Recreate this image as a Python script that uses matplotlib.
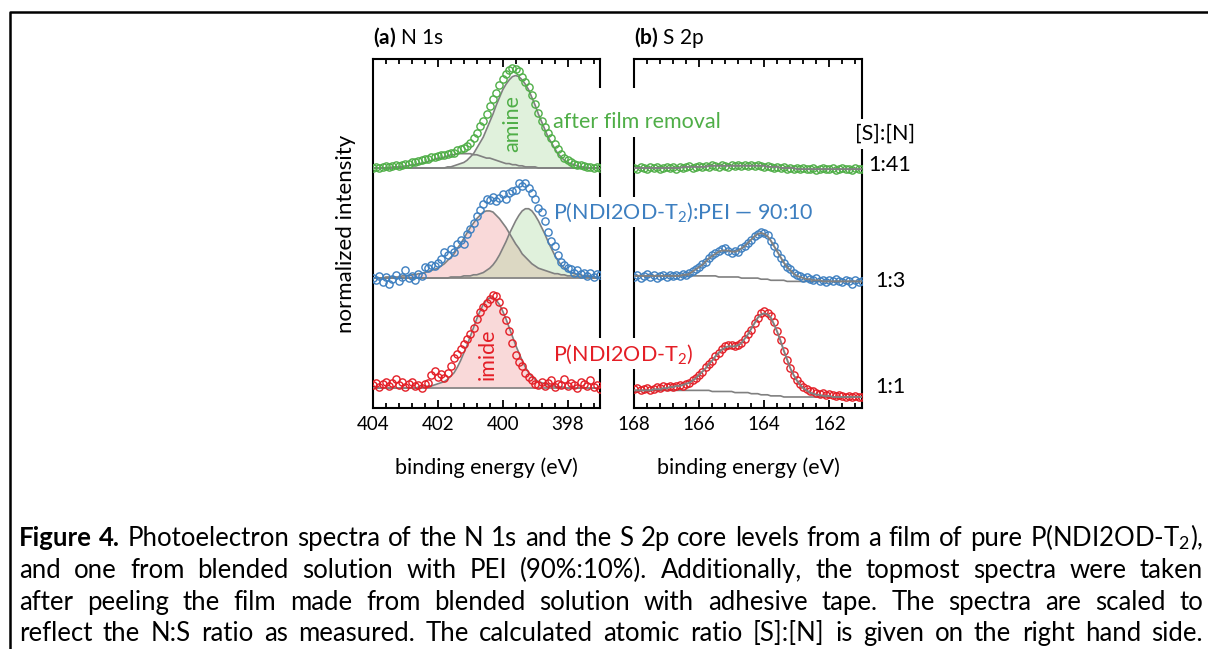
import numpy as np
import matplotlib
matplotlib.use("Agg")
from matplotlib import pyplot as plt
from matplotlib.ticker import MultipleLocator
from matplotlib.patches import Rectangle
from matplotlib.lines import Line2D

plt.rcParams["font.family"] = ["Lato", "DejaVu Sans"]
plt.rcParams["mathtext.fontset"] = "custom"
plt.rcParams["mathtext.rm"] = "Lato"
plt.rcParams["mathtext.it"] = "Lato:italic"
plt.rcParams["mathtext.bf"] = "Lato:bold"

# binding energy grids, 0.1 eV steps
n1s_energy = np.round(np.linspace(404.0, 397.0, 71), 1)
s2p_energy = np.round(np.linspace(168.0, 161.0, 71), 1)

# ---- N 1s ----
# pure P(NDI2OD-T2)
n1s_pure = [0.03, 0.05, 0.01, 0.04, 0.06, 0.02, 0.05, 0.08, 0.03, 0.06,
            0.01, 0.04, 0.06, 0.02, 0.03, 0.00, 0.04, 0.05, 0.12, 0.16,
            0.10, 0.13, 0.09, 0.14, 0.20, 0.27, 0.31, 0.36, 0.40, 0.45,
            0.49, 0.55, 0.63, 0.69, 0.74, 0.77, 0.81, 0.85, 0.84, 0.78,
            0.70, 0.62, 0.52, 0.41, 0.30, 0.24, 0.20, 0.14, 0.10, 0.07,
            0.04, 0.03, 0.06, 0.02, 0.05, 0.07, 0.01, 0.04, 0.03, 0.08,
            0.02, 0.05, 0.03, 0.00, 0.06, 0.04, 0.02, 0.07, 0.01, 0.03, -0.01]
n1s_pure_imide = [0, 0, 0, 0, 0, 0, 0, 0, 0, 0,
                  0, 0, 0, 0.00, 0.01, 0.01, 0.01, 0.02, 0.02, 0.03,
                  0.04, 0.05, 0.06, 0.08, 0.11, 0.14, 0.19, 0.25, 0.32, 0.39,
                  0.47, 0.55, 0.63, 0.70, 0.76, 0.80, 0.82, 0.82, 0.80, 0.76,
                  0.70, 0.63, 0.55, 0.47, 0.39, 0.32, 0.25, 0.19, 0.14, 0.11,
                  0.08, 0.06, 0.05, 0.04, 0.03, 0.02, 0.02, 0.01, 0.01, 0.01,
                  0, 0, 0, 0, 0, 0, 0, 0, 0, 0, 0]

# blend P(NDI2OD-T2):PEI 90:10
n1s_blend = [0.00, -0.02, 0.02, -0.04, 0.01, -0.05, -0.01, 0.03, -0.03, 0.01,
             0.07, 0.00, 0.02, -0.02, 0.04, 0.02, 0.10, 0.09, 0.12, 0.11,
             0.14, 0.17, 0.24, 0.21, 0.26, 0.24, 0.31, 0.35, 0.31, 0.40,
             0.45, 0.50, 0.56, 0.62, 0.67, 0.72, 0.71, 0.74, 0.70, 0.73,
             0.76, 0.72, 0.77, 0.79, 0.80, 0.86, 0.84, 0.86, 0.82, 0.77,
             0.72, 0.64, 0.60, 0.52, 0.42, 0.34, 0.29, 0.21, 0.15, 0.12,
             0.09, 0.08, 0.05, 0.07, 0.04, 0.05, 0.02, 0.05, 0.01, 0.04, 0.03]
n1s_blend_imide = [0.00, 0.00, 0.00, 0.00, 0.01, 0.01, 0.01, 0.01, 0.01, 0.02,
                   0.02, 0.02, 0.03, 0.03, 0.04, 0.04, 0.05, 0.06, 0.07, 0.08,
                   0.09, 0.11, 0.13, 0.16, 0.19, 0.22, 0.27, 0.31, 0.36, 0.41,
                   0.46, 0.50, 0.54, 0.57, 0.60, 0.61, 0.61, 0.60, 0.57, 0.54,
                   0.50, 0.46, 0.41, 0.36, 0.31, 0.27, 0.22, 0.19, 0.16, 0.13,
                   0.11, 0.09, 0.08, 0.07, 0.06, 0.05, 0.04, 0.04, 0.03, 0.03,
                   0.02, 0.02, 0.02, 0.01, 0.01, 0.01, 0.01, 0.01, 0.00, 0.00, 0.00]
n1s_blend_amine = [0, 0, 0, 0, 0, 0, 0, 0, 0, 0,
                   0, 0, 0, 0, 0, 0, 0, 0, 0, 0,
                   0.00, 0.00, 0.00, 0.00, 0.01, 0.01, 0.01, 0.01, 0.02, 0.02,
                   0.02, 0.03, 0.03, 0.04, 0.05, 0.07, 0.09, 0.12, 0.16, 0.21,
                   0.27, 0.33, 0.40, 0.46, 0.52, 0.57, 0.61, 0.63, 0.63, 0.61,
                   0.57, 0.52, 0.46, 0.40, 0.33, 0.27, 0.21, 0.16, 0.12, 0.09,
                   0.07, 0.05, 0.04, 0.03, 0.03, 0.02, 0.02, 0.02, 0.01, 0.01, 0.01]

# after peeling the blend film
n1s_peeled = [0.00, 0.01, 0.00, 0.01, 0.02, 0.01, 0.02, 0.03, 0.02, 0.03,
              0.04, 0.04, 0.05, 0.05, 0.06, 0.07, 0.08, 0.08, 0.10, 0.10,
              0.11, 0.12, 0.12, 0.13, 0.14, 0.14, 0.16, 0.17, 0.18, 0.20,
              0.23, 0.27, 0.32, 0.38, 0.43, 0.49, 0.56, 0.63, 0.68, 0.75,
              0.81, 0.85, 0.89, 0.91, 0.90, 0.88, 0.83, 0.78, 0.74, 0.66,
              0.58, 0.50, 0.43, 0.37, 0.32, 0.27, 0.22, 0.17, 0.13, 0.09,
              0.07, 0.05, 0.04, 0.03, 0.03, 0.02, 0.01, 0.01, 0.00, 0.01, 0.00]
n1s_peeled_amine = [0, 0, 0, 0, 0, 0, 0, 0, 0, 0,
                    0, 0, 0, 0, 0, 0, 0, 0, 0, 0,
                    0.00, 0.00, 0.00, 0.01, 0.01, 0.02, 0.03, 0.04, 0.05, 0.07,
                    0.10, 0.13, 0.18, 0.23, 0.28, 0.35, 0.42, 0.49, 0.57, 0.64,
                    0.71, 0.76, 0.80, 0.83, 0.84, 0.83, 0.80, 0.76, 0.71, 0.64,
                    0.57, 0.49, 0.42, 0.35, 0.28, 0.23, 0.18, 0.13, 0.10, 0.07,
                    0.05, 0.04, 0.03, 0.02, 0.01, 0.01, 0.00, 0.00, 0.00, 0.00, 0.00]
n1s_peeled_broad = [0, 0, 0, 0, 0, 0.00, 0.01, 0.01, 0.01, 0.01,
                    0.02, 0.02, 0.03, 0.03, 0.04, 0.04, 0.05, 0.06, 0.07, 0.08,
                    0.09, 0.09, 0.10, 0.11, 0.12, 0.12, 0.13, 0.13, 0.13, 0.13,
                    0.13, 0.12, 0.12, 0.11, 0.10, 0.09, 0.09, 0.08, 0.07, 0.06,
                    0.05, 0.04, 0.04, 0.03, 0.03, 0.02, 0.02, 0.01, 0.01, 0.01,
                    0.01, 0, 0, 0, 0, 0, 0, 0, 0, 0,
                    0, 0, 0, 0, 0, 0, 0, 0, 0, 0, 0]

# ---- S 2p ----
s2p_pure = [-0.01, 0.00, -0.02, -0.01, 0.00, -0.02, -0.01, 0.01, 0.00, 0.02,
            0.01, 0.02, 0.01, 0.02, 0.03, 0.02, 0.04, 0.05, 0.07, 0.09,
            0.12, 0.15, 0.19, 0.22, 0.25, 0.29, 0.32, 0.36, 0.38, 0.39,
            0.39, 0.38, 0.39, 0.41, 0.45, 0.49, 0.53, 0.59, 0.64, 0.68,
            0.70, 0.68, 0.66, 0.60, 0.52, 0.44, 0.34, 0.26, 0.18, 0.12,
            0.07, 0.04, 0.01, -0.01, -0.03, -0.03, -0.04, -0.05, -0.04, -0.06,
            -0.05, -0.06, -0.07, -0.06, -0.07, -0.08, -0.07, -0.08, -0.07, -0.08, -0.08]
s2p_pure_fit = [-0.02, -0.02, -0.02, -0.02, -0.02, -0.02, -0.01, -0.01, -0.01, 0.00,
                0.00, 0.01, 0.01, 0.02, 0.02, 0.03, 0.04, 0.05, 0.07, 0.09,
                0.12, 0.15, 0.18, 0.22, 0.25, 0.29, 0.32, 0.35, 0.37, 0.38,
                0.38, 0.38, 0.39, 0.41, 0.45, 0.49, 0.54, 0.59, 0.64, 0.67,
                0.68, 0.67, 0.64, 0.58, 0.51, 0.43, 0.34, 0.26, 0.18, 0.12,
                0.07, 0.03, 0.00, -0.02, -0.04, -0.05, -0.06, -0.06, -0.07, -0.07,
                -0.07, -0.08, -0.08, -0.08, -0.08, -0.08, -0.08, -0.08, -0.08, -0.08, -0.08]
s2p_pure_bg = [-0.02, -0.02, -0.02, -0.02, -0.02, -0.02, -0.02, -0.02, -0.02, -0.02,
               -0.02, -0.02, -0.02, -0.02, -0.02, -0.02, -0.02, -0.02, -0.02, -0.02,
               -0.02, -0.02, -0.02, -0.02, -0.03, -0.03, -0.03, -0.03, -0.03, -0.03,
               -0.03, -0.04, -0.04, -0.04, -0.04, -0.04, -0.05, -0.05, -0.05, -0.06,
               -0.06, -0.06, -0.07, -0.07, -0.07, -0.07, -0.08, -0.08, -0.08, -0.08,
               -0.08, -0.08, -0.08, -0.08, -0.08, -0.08, -0.08, -0.08, -0.08, -0.08,
               -0.08, -0.08, -0.08, -0.08, -0.08, -0.08, -0.08, -0.08, -0.08, -0.08, -0.08]

s2p_blend = [0.01, 0.03, 0.00, 0.02, 0.04, 0.01, 0.03, 0.00, 0.02, 0.03,
             0.01, 0.03, 0.02, 0.03, 0.02, 0.04, 0.03, 0.05, 0.06, 0.08,
             0.10, 0.13, 0.15, 0.18, 0.21, 0.23, 0.25, 0.26, 0.27, 0.25,
             0.23, 0.25, 0.24, 0.27, 0.29, 0.32, 0.35, 0.38, 0.40, 0.42,
             0.41, 0.39, 0.34, 0.29, 0.23, 0.18, 0.14, 0.10, 0.08, 0.05,
             0.03, 0.02, 0.00, 0.01, -0.01, -0.02, 0.00, -0.03, -0.02, -0.04,
             -0.02, -0.03, -0.01, -0.03, -0.04, -0.02, -0.03, -0.05, -0.02, -0.04, -0.03]
s2p_blend_fit = [0.02, 0.02, 0.02, 0.02, 0.02, 0.02, 0.02, 0.02, 0.02, 0.02,
                 0.02, 0.02, 0.02, 0.02, 0.02, 0.03, 0.03, 0.04, 0.06, 0.08,
                 0.10, 0.12, 0.15, 0.18, 0.20, 0.22, 0.24, 0.25, 0.25, 0.25,
                 0.24, 0.24, 0.25, 0.27, 0.29, 0.32, 0.35, 0.38, 0.40, 0.41,
                 0.40, 0.38, 0.34, 0.29, 0.24, 0.19, 0.14, 0.10, 0.07, 0.04,
                 0.02, 0.01, 0.00, -0.01, -0.01, -0.02, -0.02, -0.02, -0.03, -0.03,
                 -0.03, -0.03, -0.03, -0.03, -0.03, -0.03, -0.03, -0.03, -0.03, -0.03, -0.03]
s2p_blend_bg = [0.02, 0.02, 0.02, 0.02, 0.02, 0.02, 0.02, 0.02, 0.02, 0.02,
                0.02, 0.02, 0.02, 0.02, 0.02, 0.02, 0.02, 0.02, 0.02, 0.02,
                0.02, 0.02, 0.02, 0.02, 0.02, 0.02, 0.01, 0.01, 0.01, 0.01,
                0.01, 0.01, 0.01, 0.00, 0.00, 0.00, 0.00, 0.00, 0.00, -0.01,
                -0.01, -0.01, -0.02, -0.02, -0.02, -0.02, -0.02, -0.03, -0.03, -0.03,
                -0.03, -0.03, -0.03, -0.03, -0.03, -0.03, -0.03, -0.03, -0.03, -0.03,
                -0.03, -0.03, -0.03, -0.03, -0.03, -0.03, -0.03, -0.03, -0.03, -0.03, -0.03]

s2p_peeled = [0.00, -0.01, 0.01, 0.00, -0.01, 0.01, 0.00, 0.01, -0.01, 0.00,
              0.01, 0.00, 0.01, -0.01, 0.01, 0.00, 0.01, 0.02, 0.00, 0.01,
              0.02, 0.01, 0.02, 0.01, 0.03, 0.02, 0.01, 0.03, 0.02, 0.01,
              0.03, 0.02, 0.03, 0.02, 0.03, 0.02, 0.03, 0.02, 0.03, 0.02,
              0.01, 0.02, 0.01, 0.00, 0.01, 0.00, 0.01, -0.01, 0.00, -0.01,
              0.00, -0.01, 0.00, -0.01, -0.01, 0.00, -0.02, -0.01, 0.00, -0.01,
              -0.01, 0.00, -0.02, -0.01, 0.00, -0.01, -0.01, -0.02, 0.00, -0.01, -0.01]
s2p_peeled_fit = [0.00, 0.00, 0.00, 0.00, 0.00, 0.00, 0.00, 0.00, 0.00, 0.00,
                  0.00, 0.00, 0.00, 0.00, 0.00, 0.01, 0.01, 0.01, 0.01, 0.01,
                  0.01, 0.01, 0.01, 0.02, 0.02, 0.02, 0.02, 0.02, 0.02, 0.02,
                  0.02, 0.02, 0.02, 0.02, 0.02, 0.02, 0.02, 0.02, 0.02, 0.02,
                  0.02, 0.01, 0.01, 0.01, 0.01, 0.00, 0.00, 0.00, 0.00, 0.00,
                  -0.01, -0.01, -0.01, -0.01, -0.01, -0.01, -0.01, -0.01, -0.01, -0.01,
                  -0.01, -0.01, -0.01, -0.01, -0.01, -0.01, -0.01, -0.01, -0.01, -0.01, -0.01]

# stacking offsets: pure, blend, peeled
offsets = [0.0, 1.0, 2.0]
ratios = ["1:1", "1:3", "1:41"]
sample_labels = ["P(NDI2OD-T$_2$)", "P(NDI2OD-T$_2$):PEI \u2014 90:10", "after film removal"]

red, blue, green = "#e41e26", "#3d7fc0", "#4fae47"
gray = "#808080"
pink_fill, green_fill = "#f0a0a0", "#a8d89c"

W, H = 1208, 649
fig = plt.figure(figsize=(W / 100, H / 100), dpi=100)


def fx(px):
    return px / W


def fy(py):
    return 1 - py / H


ax_n = fig.add_axes([fx(373), fy(408), fx(600) - fx(373), fy(59) - fy(408)])
ax_s = fig.add_axes([fx(634), fy(408), fx(862) - fx(634), fy(59) - fy(408)])

for ax, lim in ((ax_n, (404, 397)), (ax_s, (168, 161))):
    ax.set_xlim(*lim)
    ax.set_ylim(-0.18, 2.99)
    ax.set_yticks([])
    ax.xaxis.set_major_locator(MultipleLocator(2))
    ax.xaxis.set_minor_locator(MultipleLocator(0.4))
    ax.tick_params(axis="x", which="both", direction="in", top=True, bottom=True,
                   labelsize=13.5, pad=6)
    ax.tick_params(axis="x", which="major", length=6, width=1.3)
    ax.tick_params(axis="x", which="minor", length=3.5, width=1.3)
    for sp in ax.spines.values():
        sp.set_linewidth(1.5)
    ax.set_xlabel("binding energy (eV)", fontsize=15.5, labelpad=17)

ax_n.set_ylabel("normalized intensity", fontsize=16, labelpad=12)

mk = dict(linestyle="none", marker="o", ms=5.2, mfc="none", mew=1.0, zorder=4)
ln = dict(color=gray, lw=1.2, zorder=3)

# N 1s panel
off = offsets[0]
ax_n.fill_between(n1s_energy, off, off + np.array(n1s_pure_imide), color=pink_fill, alpha=0.4, lw=0)
ax_n.plot(n1s_energy, off + np.array(n1s_pure_imide), **ln)
ax_n.plot(n1s_energy, np.full_like(n1s_energy, off), **ln)
ax_n.plot(n1s_energy, off + np.array(n1s_pure), mec=red, **mk)

off = offsets[1]
ax_n.fill_between(n1s_energy, off, off + np.array(n1s_blend_imide), color=pink_fill, alpha=0.4, lw=0)
ax_n.fill_between(n1s_energy, off, off + np.array(n1s_blend_amine), color=green_fill, alpha=0.35, lw=0)
ax_n.plot(n1s_energy, off + np.array(n1s_blend_imide), **ln)
ax_n.plot(n1s_energy, off + np.array(n1s_blend_amine), **ln)
ax_n.plot(n1s_energy, np.full_like(n1s_energy, off), **ln)
ax_n.plot(n1s_energy, off + np.array(n1s_blend), mec=blue, **mk)

off = offsets[2]
ax_n.fill_between(n1s_energy, off, off + np.array(n1s_peeled_amine), color=green_fill, alpha=0.35, lw=0)
ax_n.plot(n1s_energy, off + np.array(n1s_peeled_amine), **ln)
ax_n.plot(n1s_energy, off + np.array(n1s_peeled_broad), **ln)
ax_n.plot(n1s_energy, np.full_like(n1s_energy, off), **ln)
ax_n.plot(n1s_energy, off + np.array(n1s_peeled), mec=green, **mk)

ax_n.text(399.7, 2.40, "amine", color=green, rotation=90, fontsize=15.5, ha="center", va="center")
ax_n.text(400.45, 0.31, "imide", color=red, rotation=90, fontsize=15.5, ha="center", va="center")

# S 2p panel
for data, fit, bg, off, col in ((s2p_pure, s2p_pure_fit, s2p_pure_bg, offsets[0], red),
                                (s2p_blend, s2p_blend_fit, s2p_blend_bg, offsets[1], blue),
                                (s2p_peeled, s2p_peeled_fit, None, offsets[2], green)):
    if bg is not None:
        ax_s.plot(s2p_energy, off + np.array(bg), **ln)
    ax_s.plot(s2p_energy, off + np.array(data), mec=col, **mk)
    ax_s.plot(s2p_energy, off + np.array(fit), color=gray, lw=1.4, zorder=5)

# panel titles
fig.text(fx(373), fy(37), r"$\mathbf{(a)}$ N 1s", fontsize=15, va="center")
fig.text(fx(634), fy(37), r"$\mathbf{(b)}$ S 2p", fontsize=15, va="center")

# white masks that break the inner spines behind the sample labels
for top, bottom in ((88, 137), (197, 227), (338, 369)):
    fig.add_artist(Rectangle((fx(590), fy(bottom)), fx(645) - fx(590), fy(top) - fy(bottom),
                             transform=fig.transFigure, facecolor="white", edgecolor="none", zorder=5))
fig.add_artist(Rectangle((fx(856), fy(149)), fx(868) - fx(856), fy(119) - fy(149),
                         transform=fig.transFigure, facecolor="white", edgecolor="none", zorder=5))

for label, col, ypx in zip(sample_labels, (red, blue, green), (354, 212, 122)):
    fig.text(fx(553), fy(ypx), label, color=col, fontsize=15.5, va="center", zorder=6)

fig.text(fx(855), fy(134), "[S]:[N]", fontsize=15.5, va="center", zorder=6)
for r, ypx, xpx in zip(ratios, (387, 281, 165), (875, 875, 868)):
    fig.text(fx(xpx), fy(ypx), r, fontsize=15.5, va="center", zorder=6)

# frame around the figure
fig.add_artist(Line2D([fx(10), fx(10), 1.0], [0.0, fy(12), fy(12)], color="black", lw=1.8,
                      transform=fig.transFigure))

# caption, justified between the frame margins
caption = [
    "Figure 4. Photoelectron spectra of the N 1s and the S 2p core levels from a film of pure P(NDI2OD-T$_2$),",
    "and one from blended solution with PEI (90%:10%). Additionally, the topmost spectra were taken",
    "after peeling the film made from blended solution with adhesive tape. The spectra are scaled to",
    "reflect the N:S ratio as measured. The calculated atomic ratio [S]:[N] is given on the right hand side.",
]
caption_y = [546, 578, 610, 641]
cap_left, cap_right = 19, 1203
renderer = fig.canvas.get_renderer()

# size the caption so the widest line just fills the text block
probe = [fig.text(0, 0, line, fontsize=10) for line in caption]
widest = max(t.get_window_extent(renderer).width for t in probe)
for t in probe:
    t.remove()
cap_size = 10 * (cap_right - cap_left) / widest * 0.985

for row, (line, base) in enumerate(zip(caption, caption_y)):
    words = line.split(" ")
    texts = [fig.text(0, fy(base), w, fontsize=cap_size, va="baseline",
                      fontweight="bold" if (row == 0 and k < 2) else "normal")
             for k, w in enumerate(words)]
    widths = [t.get_window_extent(renderer).width for t in texts]
    gap = (cap_right - cap_left - sum(widths)) / (len(words) - 1)
    x = cap_left
    for t, w in zip(texts, widths):
        t.set_x(fx(x))
        x += w + gap

fig.savefig("out.png", dpi=100)
